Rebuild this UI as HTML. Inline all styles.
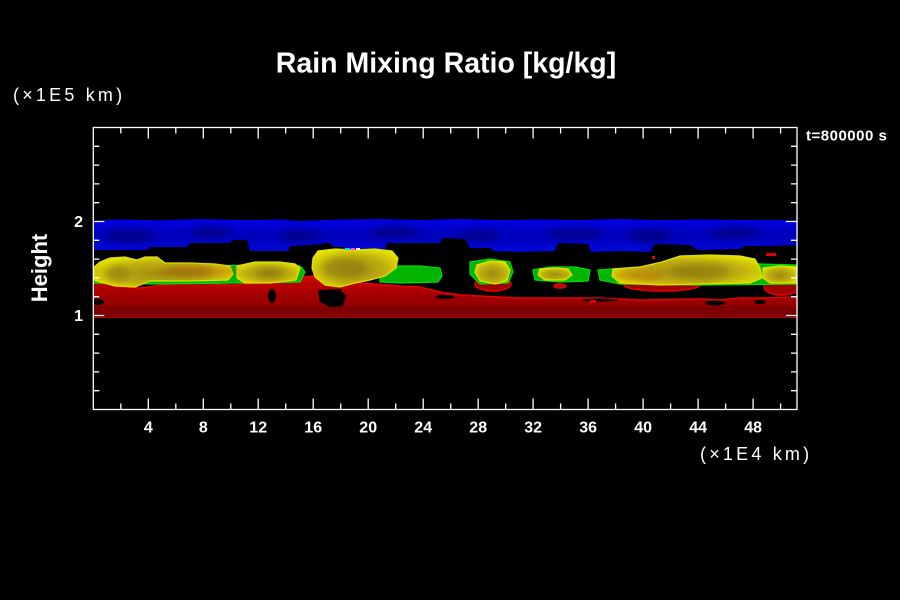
<!DOCTYPE html>
<html><head><meta charset="utf-8"><style>
html,body{margin:0;padding:0;background:#000;}
svg{display:block;}
text{font-family:"Liberation Sans",sans-serif;fill:#fff;}
</style></head><body>
<svg width="900" height="600" viewBox="0 0 900 600" xmlns="http://www.w3.org/2000/svg">
<defs>
<clipPath id="plot"><rect x="93.3" y="127.5" width="703.7" height="282"/></clipPath>
<filter id="bl" x="-20%" y="-50%" width="140%" height="200%"><feGaussianBlur stdDeviation="3"/></filter>
<radialGradient id="yg" cx="50%" cy="55%" r="60%">
<stop offset="0" stop-color="#a08a10"/><stop offset="0.6" stop-color="#bfae10"/><stop offset="1" stop-color="#e4e400"/>
</radialGradient>
<linearGradient id="bg" x1="0" y1="0" x2="0" y2="1">
<stop offset="0" stop-color="#0000f0"/><stop offset="0.5" stop-color="#0000b8"/><stop offset="1" stop-color="#0008e0"/>
</linearGradient>
<linearGradient id="rg" x1="0" y1="0" x2="0" y2="1">
<stop offset="0" stop-color="#d00000"/><stop offset="0.5" stop-color="#a00000"/><stop offset="1" stop-color="#880000"/>
</linearGradient>
<clipPath id="blueclip"><path d="M93,221 L100,220 L130,219.5 L160,220.5 L200,219 L240,220 L280,219.5 L300,221 L340,219.5 L380,219 L420,220 L460,219 L500,220 L540,219.5 L580,220 L620,219 L660,220 L700,219.5 L740,220 L797,220 L797,245 L770,246 L745,246 L740,249 L698,250 L690,245 L655,244 L650,252 L620,251 L591,252 L588,244 L558,243 L555,251 L520,252 L493,251 L490,248 L470,248 L465,239 L443,238 L440,243 L387,243 L384,252 L347,252 L344,247 L333,247 L330,243 L320,244 L310,245 L290,246 L288,251 L250,251 L247,240 L233,240 L230,243 L190,243 L187,247 L150,247 L147,250 L93,250 Z"/></clipPath>
</defs>
<rect width="900" height="600" fill="#000"/>

<g clip-path="url(#plot)">
<g clip-path="url(#blueclip)">
<rect x="93" y="215" width="705" height="40" fill="url(#bg)"/>
<g filter="url(#bl)" fill="#000070" opacity="0.55">
<ellipse cx="130" cy="236" rx="25" ry="7"/>
<ellipse cx="210" cy="232" rx="20" ry="6"/>
<ellipse cx="300" cy="236" rx="22" ry="6"/>
<ellipse cx="395" cy="232" rx="25" ry="6"/>
<ellipse cx="480" cy="236" rx="20" ry="6"/>
<ellipse cx="575" cy="234" rx="28" ry="6"/>
<ellipse cx="650" cy="236" rx="22" ry="7"/>
<ellipse cx="735" cy="233" rx="25" ry="6"/>
</g>
</g>

<path d="M93,276 L105,278 L115,286 L140,288 L170,284 L200,283 L230,285 L260,283 L275,278 L285,275 L300,277 L313,276 L330,281 L360,283 L390,285 L400,286 L420,287 L440,292 L460,295 L480,296 L500,297 L520,298 L560,298 L600,298 L640,300 L700,299 L720,300 L740,298 L760,298 L797,297 L797,317 L93,317 Z" fill="url(#rg)" stroke="#e80000" stroke-width="1.5"/>
<rect x="93" y="306" width="704" height="11" fill="#7e0000"/>
<g fill="#000">
<ellipse cx="98" cy="302" rx="6" ry="3"/>
<ellipse cx="272" cy="296" rx="4" ry="7"/>
<path d="M318,290 L340,289 L346,296 L343,306 L330,307 L320,302 Z"/>
<ellipse cx="715" cy="303" rx="10" ry="2.5"/>
<ellipse cx="600" cy="300" rx="18" ry="1.5"/>
<ellipse cx="760" cy="302" rx="6" ry="2"/>
<ellipse cx="445" cy="297" rx="10" ry="2"/>
</g>
<g fill="#a00000" stroke="#e80000" stroke-width="1.5">
<ellipse cx="662" cy="285" rx="38" ry="6"/>
<ellipse cx="493" cy="284" rx="18" ry="7"/>
<ellipse cx="782" cy="287" rx="18" ry="8"/>
<ellipse cx="560" cy="286" rx="6" ry="2"/>
</g>
<g fill="#e00000">
<rect x="766" y="253" width="10" height="3"/>
<rect x="652" y="256" width="3" height="3"/>
<rect x="590" y="300" width="6" height="3"/>
</g>

<g fill="#00b400" stroke="#00e000" stroke-width="1.2">
<path d="M93,268 L130,267 L200,266 L260,265 L300,266 L305,272 L300,282 L230,283 L150,284 L93,283 Z"/>
<path d="M380,267 L400,266 L420,266 L440,268 L442,276 L438,282 L400,283 L380,282 Z"/>
<path d="M470,262 L490,259 L510,262 L513,272 L508,283 L480,284 L470,274 Z"/>
<path d="M533,270 L550,267 L575,267 L590,270 L588,281 L560,282 L535,280 Z"/>
<path d="M598,270 L640,267 L700,262 L760,264 L797,265 L797,284 L700,285 L620,284 L600,280 Z"/>
</g>

<g fill="url(#yg)" stroke="#e0e000" stroke-width="1.2">
<path d="M93,268 L100,262 L110,258 L125,257 L137,260 L145,257 L157,257 L165,263 L190,263 L215,264 L230,266 L233,274 L228,280 L190,281 L150,281 L135,287 L115,286 L100,282 L93,280 Z"/>
<path d="M237,266 L255,262 L280,262 L295,264 L300,268 L296,280 L270,283 L245,283 L237,278 Z"/>
<path d="M313,258 L318,251 L335,249 L355,250 L375,249 L392,251 L398,258 L396,268 L385,276 L370,280 L355,283 L340,287 L325,285 L315,277 L312,268 Z"/>
<path d="M477,265 L490,261 L505,262 L510,270 L507,281 L495,284 L480,281 L475,272 Z"/>
<path d="M540,269 L555,268 L568,269 L572,275 L565,280 L545,280 L538,275 Z"/>
<path d="M613,269 L640,267 L662,262 L680,256 L710,255 L740,256 L755,259 L760,268 L762,278 L750,283 L700,284 L660,285 L620,283 L612,276 Z"/>
<path d="M763,268 L780,266 L797,267 L797,283 L770,283 L763,278 Z"/>
</g>
<g filter="url(#bl)" fill="#8a7a10" opacity="0.55">
<ellipse cx="118" cy="274" rx="12" ry="8"/>
<ellipse cx="345" cy="268" rx="22" ry="10"/>
<ellipse cx="700" cy="272" rx="30" ry="8"/>
<ellipse cx="270" cy="273" rx="14" ry="5"/>
<ellipse cx="190" cy="272" rx="22" ry="5"/>
</g>
<g fill="#c03000" opacity="0.25" filter="url(#bl)">
<ellipse cx="200" cy="271" rx="40" ry="5"/>
<ellipse cx="640" cy="276" rx="25" ry="5"/>
</g>
<g>
<rect x="345" y="248" width="5" height="2" fill="#00e0e0"/>
<rect x="351" y="248" width="4" height="2" fill="#ff40ff"/>
<rect x="356" y="248" width="4" height="2" fill="#ffffff"/>
</g>
</g>

<rect x="93.3" y="127.5" width="703.7" height="282" fill="none" stroke="#fff" stroke-width="1.3"/>
<g stroke="#fff" stroke-width="1.3">
<path d="M120.8,127.5v6 M148.3,127.5v11 M175.8,127.5v6 M203.3,127.5v11 M230.8,127.5v6 M258.2,127.5v11 M285.7,127.5v6 M313.2,127.5v11 M340.7,127.5v6 M368.2,127.5v11 M395.7,127.5v6 M423.2,127.5v11 M450.7,127.5v6 M478.2,127.5v11 M505.7,127.5v6 M533.1,127.5v11 M560.6,127.5v6 M588.1,127.5v11 M615.6,127.5v6 M643.1,127.5v11 M670.6,127.5v6 M698.1,127.5v11 M725.6,127.5v6 M753.1,127.5v11 M780.6,127.5v6"/>
<path d="M120.8,409.5v-6 M148.3,409.5v-11 M175.8,409.5v-6 M203.3,409.5v-11 M230.8,409.5v-6 M258.2,409.5v-11 M285.7,409.5v-6 M313.2,409.5v-11 M340.7,409.5v-6 M368.2,409.5v-11 M395.7,409.5v-6 M423.2,409.5v-11 M450.7,409.5v-6 M478.2,409.5v-11 M505.7,409.5v-6 M533.1,409.5v-11 M560.6,409.5v-6 M588.1,409.5v-11 M615.6,409.5v-6 M643.1,409.5v-11 M670.6,409.5v-6 M698.1,409.5v-11 M725.6,409.5v-6 M753.1,409.5v-11 M780.6,409.5v-6"/>
<path d="M93.3,390.7h6 M93.3,371.9h6 M93.3,353.1h6 M93.3,334.3h6 M93.3,315.5h11 M93.3,296.7h6 M93.3,277.9h6 M93.3,259.1h6 M93.3,240.3h6 M93.3,221.5h11 M93.3,202.7h6 M93.3,183.9h6 M93.3,165.1h6 M93.3,146.3h6"/>
<path d="M797,390.7h-6 M797,371.9h-6 M797,353.1h-6 M797,334.3h-6 M797,315.5h-11 M797,296.7h-6 M797,277.9h-6 M797,259.1h-6 M797,240.3h-6 M797,221.5h-11 M797,202.7h-6 M797,183.9h-6 M797,165.1h-6 M797,146.3h-6"/>
</g>

<text x="446" y="72.5" font-size="28.5" font-weight="bold" text-anchor="middle">Rain Mixing Ratio [kg/kg]</text>
<text x="13" y="101" font-size="18" letter-spacing="3.2">(×1E5 km)</text>
<text x="700" y="460" font-size="18" letter-spacing="3.2">(×1E4 km)</text>
<text x="806" y="140.5" font-size="15" font-weight="bold" letter-spacing="0.5">t=800000 s</text>
<text transform="translate(47,268) rotate(-90)" font-size="22" font-weight="bold" text-anchor="middle">Height</text>
<g font-size="16" font-weight="bold" text-anchor="end">
<text x="83" y="227">2</text>
<text x="83" y="321">1</text>
</g>
<g font-size="16" font-weight="bold" text-anchor="middle">
<text x="148.3" y="432.7">4</text>
<text x="203.3" y="432.7">8</text>
<text x="258.2" y="432.7">12</text>
<text x="313.2" y="432.7">16</text>
<text x="368.2" y="432.7">20</text>
<text x="423.2" y="432.7">24</text>
<text x="478.2" y="432.7">28</text>
<text x="533.1" y="432.7">32</text>
<text x="588.1" y="432.7">36</text>
<text x="643.1" y="432.7">40</text>
<text x="698.1" y="432.7">44</text>
<text x="753.1" y="432.7">48</text>
</g>
</svg>
</body></html>
